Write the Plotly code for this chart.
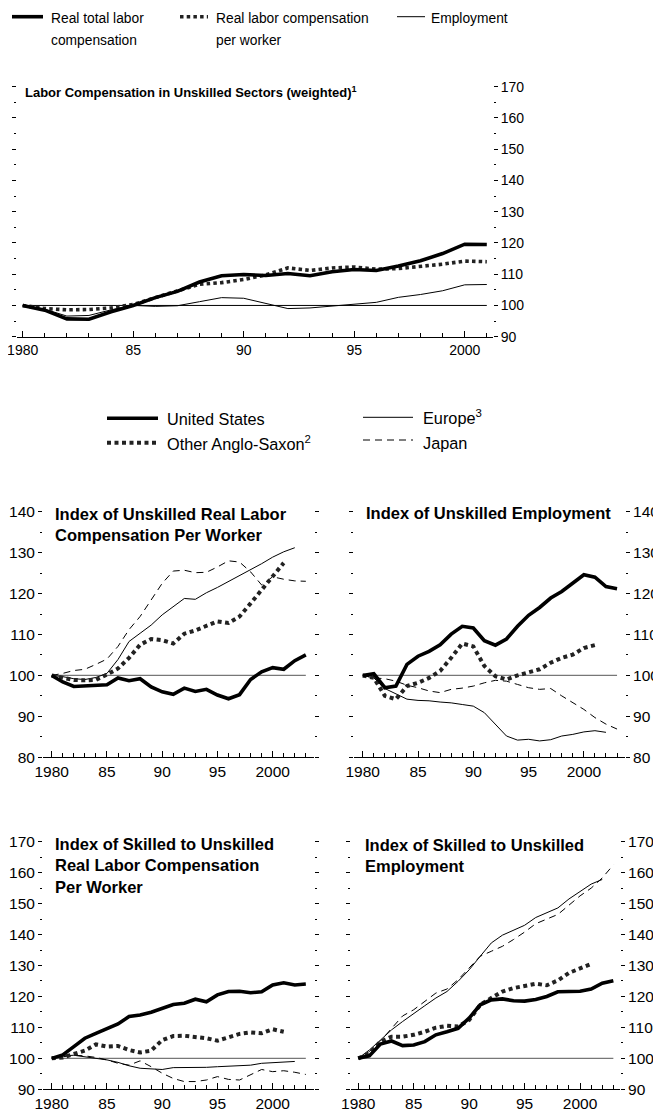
import plotly.graph_objects as go

# ---------------- data ----------------
years_top = list(range(1980, 2002))
top_total = [100, 98.5, 95.7, 95.6, 98.0, 100.0, 102.5, 104.5, 107.5, 109.5, 109.9, 109.6,
             110.2, 109.5, 110.8, 111.5, 111.2, 112.6, 114.3, 116.6, 119.6, 119.5]
top_per_worker = [100, 99.0, 98.6, 98.7, 99.2, 100.3, 102.5, 104.7, 106.8, 107.3, 108.3, 109.8,
                  112.0, 111.2, 112.0, 112.3, 111.6, 111.8, 112.5, 113.2, 114.2, 114.0]
top_employment = [100, 98.8, 96.6, 96.8, 98.6, 100.0, 99.7, 99.9, 101.2, 102.5, 102.3, 100.7,
                  99.0, 99.2, 99.8, 100.2, 101.0, 102.6, 103.5, 104.7, 106.6, 106.7]

years = list(range(1980, 2004))

# Index of unskilled real labor compensation per worker
ulc_us = [100, 98.4, 97.3, 97.4, 97.6, 97.7, 99.4, 98.7, 99.2, 97.2, 96.0, 95.4,
          96.9, 96.1, 96.6, 95.2, 94.3, 95.3, 99.0, 100.9, 101.9, 101.5, 103.6, 105.0]
ulc_anglo = [100, 99.4, 98.9, 98.8, 98.9, 100.2, 101.7, 104.3, 107.5, 108.9, 108.6, 107.8,
             110.2, 111.0, 112.0, 113.2, 112.8, 114.4, 117.6, 120.9, 124.1, 127.5]
ulc_europe = [100, 99.7, 99.2, 99.0, 99.5, 100.5, 103.9, 108.3, 110.3, 112.3, 114.8, 116.8,
              118.8, 118.6, 120.2, 121.5, 122.9, 124.5, 125.9, 127.3, 128.9, 130.2, 131.2]
ulc_japan = [100, 100.5, 101.2, 101.5, 102.7, 104.0, 107.1, 111.2, 114.4, 118.4, 122.5, 125.5,
             125.7, 125.1, 125.2, 126.5, 128.0, 127.7, 125.3, 122.1, 124.1, 123.5, 123.1, 123.0]

# Index of unskilled employment
ue_us = [100, 100.4, 97.0, 97.4, 102.7, 104.7, 105.9, 107.5, 110.1, 112.0, 111.6, 108.5,
         107.4, 108.9, 112.0, 114.7, 116.6, 118.9, 120.5, 122.5, 124.6, 124.0, 121.7, 121.2]
ue_anglo = [100, 99.4, 95.0, 94.2, 97.4, 98.2, 99.4, 101.1, 104.3, 107.8, 107.1, 102.3,
            99.8, 99.0, 100.0, 100.8, 101.5, 103.1, 104.3, 105.1, 106.7, 107.4]
ue_europe = [100, 99.4, 96.8, 95.4, 94.2, 93.9, 93.8, 93.5, 93.3, 92.9, 92.5, 90.9,
             88.1, 85.2, 84.2, 84.4, 84.0, 84.3, 85.2, 85.6, 86.2, 86.5, 86.1]
ue_japan = [100, 99.4, 99.2, 98.6, 97.6, 97.0, 96.2, 95.8, 96.6, 96.9, 97.4, 98.2,
            98.8, 98.6, 97.8, 97.0, 96.6, 96.8, 95.0, 93.3, 91.7, 89.7, 88.1, 86.9]

# Index of skilled to unskilled real labor compensation per worker
sulc_us = [100, 101.1, 103.8, 106.5, 108.1, 109.7, 111.1, 113.5, 114.0, 114.9, 116.1, 117.4,
           117.8, 119.1, 118.3, 120.5, 121.6, 121.7, 121.2, 121.5, 123.7, 124.4, 123.7, 124.0]
sulc_anglo = [100, 100.3, 101.4, 102.5, 104.5, 103.8, 104.0, 102.7, 101.9, 102.5, 105.9, 107.2,
              107.3, 107.0, 106.5, 105.7, 106.8, 107.9, 108.4, 108.1, 109.4, 108.6]
sulc_europe = [100, 100.8, 101.0, 100.5, 100.0, 99.5, 98.7, 97.6, 96.8, 96.6, 96.4, 97.0,
               97.0, 97.2, 97.1, 97.3, 97.5, 97.5, 97.8, 98.4, 98.6, 98.8, 99.0]
sulc_japan = [100, 100.5, 101.0, 100.8, 100.3, 99.5, 98.4, 97.8, 99.2, 97.3, 95.2, 93.5,
              92.5, 92.5, 93.0, 94.1, 93.2, 93.0, 94.6, 96.4, 95.7, 96.0, 95.5, 94.8]

# Index of skilled to unskilled employment
sue_us = [100, 100.8, 104.6, 105.6, 104.1, 104.3, 105.4, 107.6, 108.6, 109.7, 113.0, 117.3,
          118.9, 119.2, 118.6, 118.5, 119.0, 120.0, 121.5, 121.6, 121.7, 122.4, 124.3, 125.1]
sue_anglo = [100, 101.6, 105.4, 107.0, 107.0, 107.6, 108.6, 109.9, 110.5, 110.3, 112.4, 117.3,
             119.5, 121.6, 122.7, 123.5, 124.1, 123.6, 125.2, 127.6, 129.2, 130.5]
sue_europe = [100, 102.7, 105.9, 109.2, 111.9, 114.6, 117.0, 119.5, 121.6, 124.9, 128.6, 133.0,
              137.3, 139.8, 141.5, 143.0, 145.5, 147.0, 148.6, 151.5, 154.0, 156.3, 157.8]
sue_japan = [100, 102.2, 105.6, 109.7, 113.7, 115.7, 118.4, 121.1, 122.4, 125.4, 129.2, 133.0,
             134.6, 136.2, 138.4, 140.8, 143.5, 145.0, 146.5, 149.5, 152.5, 155.0, 158.3, 162.5]

x_tickvals = [1980, 1985, 1990, 1995, 2000]
x_ticktext = ["1980", "85", "90", "95", "2000"]
baseline = 100

# ---------------- styling ----------------
FONT = "Liberation Sans, Arial, Helvetica, sans-serif"
# the page body keeps an 8px margin, so the figure is offset by (8, 8)
OX, OY = 8, 8
W, H = 653, 1109

def px(x):
    return (x - OX) / W

def py(y):
    return 1 - (y - OY) / H

STY = {
    "us": dict(color="black", width=3.6),
    "anglo": dict(color="#222", width=4, dash="4px,3.5px"),
    "europe": dict(color="black", width=1),
    "japan": dict(color="black", width=1, dash="7px,5px"),
}

fig = go.Figure()

def add(x, y, key, xa, ya, name):
    n = len(y)
    fig.add_trace(go.Scatter(x=x[:n], y=y, mode="lines", line=STY[key], name=name,
                             xaxis=xa, yaxis=ya, showlegend=False, hoverinfo="skip"))

# top panel
fig.add_trace(go.Scatter(x=years_top, y=[baseline] * len(years_top), mode="lines",
                         line=dict(color="black", width=1), xaxis="x", yaxis="y",
                         showlegend=False, hoverinfo="skip"))
fig.add_trace(go.Scatter(x=years_top, y=top_employment, mode="lines", line=dict(color="black", width=1),
                         xaxis="x", yaxis="y", showlegend=False, hoverinfo="skip"))
fig.add_trace(go.Scatter(x=years_top, y=top_per_worker, mode="lines",
                         line=dict(color="#222", width=3.6, dash="3.5px,3.2px"),
                         xaxis="x", yaxis="y", showlegend=False, hoverinfo="skip"))
fig.add_trace(go.Scatter(x=years_top, y=top_total, mode="lines", line=dict(color="black", width=3.6),
                         xaxis="x", yaxis="y", showlegend=False, hoverinfo="skip"))

panels = [
    ("x2", "y2", ulc_us, ulc_anglo, ulc_europe, ulc_japan),
    ("x3", "y3", ue_us, ue_anglo, ue_europe, ue_japan),
    ("x4", "y4", sulc_us, sulc_anglo, sulc_europe, sulc_japan),
    ("x5", "y5", sue_us, sue_anglo, sue_europe, sue_japan),
]
for xa, ya, us, an, eu, jp in panels:
    fig.add_trace(go.Scatter(x=years, y=[baseline] * len(years), mode="lines",
                             line=dict(color="#777", width=1.3), xaxis=xa, yaxis=ya,
                             showlegend=False, hoverinfo="skip"))
    add(years, eu, "europe", xa, ya, "Europe")
    add(years, jp, "japan", xa, ya, "Japan")
    add(years, an, "anglo", xa, ya, "Other Anglo-Saxon")
    add(years, us, "us", xa, ya, "United States")


def xaxis(domain, rng, anchor, fs):
    return dict(domain=domain, range=rng, anchor=anchor, showgrid=False, zeroline=False,
                automargin=False, ticklabeloverflow="allow",
                showline=True, linecolor="black", linewidth=1.3,
                tickmode="array", tickvals=x_tickvals, ticktext=x_ticktext,
                ticks="inside", ticklen=6, tickwidth=1, tickcolor="black",
                tickfont=dict(family=FONT, size=fs, color="black"),
                minor=dict(tickmode="linear", tick0=1980, dtick=1, ticks="inside", ticklen=4,
                           tickwidth=1, tickcolor="black", showgrid=False))


def yaxis(domain, rng, anchor, side, fs):
    return dict(domain=domain, range=rng, anchor=anchor, side=side, showgrid=False, zeroline=False,
                automargin=False, ticklabeloverflow="allow",
                showline=False, mirror="ticks", tickmode="linear", tick0=rng[0], dtick=10,
                ticks="outside", ticklen=4, tickwidth=1, tickcolor="black",
                tickfont=dict(family=FONT, size=fs, color="black"),
                minor=dict(tickmode="linear", tick0=rng[0], dtick=5, ticks="outside", ticklen=2,
                           tickwidth=1, tickcolor="black", showgrid=False))

mid_y = [py(757.3), py(511.7)]
bot_y = [py(1089.3), py(841.7)]
FS_TOP = 14
FS = 15.5

layout = dict(
    width=W, height=H, margin=dict(l=0, r=0, t=0, b=0, autoexpand=False),
    paper_bgcolor="white", plot_bgcolor="white",
    font=dict(family=FONT, color="black"),
    xaxis=xaxis([px(16.7), px(493)], [1979.73, 2001.28], "y", FS_TOP),
    yaxis=yaxis([py(336.7), py(86.7)], [90, 170], "x", "right", FS_TOP),
    xaxis2=xaxis([px(43), px(314)], [1979.21, 2003.74], "y2", FS),
    yaxis2=yaxis(mid_y, [80, 140], "x2", "left", FS),
    xaxis3=xaxis([px(354), px(625)], [1979.21, 2003.72], "y3", FS),
    yaxis3=yaxis(mid_y, [80, 140], "x3", "right", FS),
    xaxis4=xaxis([px(43), px(314)], [1979.21, 2003.74], "y4", FS),
    yaxis4=yaxis(bot_y, [90, 170], "x4", "left", FS),
    xaxis5=xaxis([px(350.7), px(620)], [1979.32, 2003.6], "y5", FS),
    yaxis5=yaxis(bot_y, [90, 170], "x5", "right", FS),
)
fig.update_layout(**layout)

# ---------------- legends (drawn) ----------------
shapes = []
annotations = []

def leg_line(x0, x1, y, line):
    shapes.append(dict(type="line", xref="paper", yref="paper", x0=px(x0), x1=px(x1),
                       y0=py(y), y1=py(y), line=line))

def text(x, y, s, size, bold=False, anchor="left", yanchor="middle"):
    if bold:
        s = "<b>" + s + "</b>"
    annotations.append(dict(xref="paper", yref="paper", x=px(x), y=py(y), text=s,
                            showarrow=False, xanchor=anchor, yanchor=yanchor, align="left",
                            xshift=-2, font=dict(family=FONT, size=size, color="black")))

# top legend
LT = 13.8
leg_line(12, 43, 16.7, dict(color="black", width=3.6))
text(51, 18, "Real total labor", LT)
text(51, 41, "compensation", LT)
leg_line(180, 208, 16.7, dict(color="#222", width=3.6, dash="3.5px,3.2px"))
text(216, 18, "Real labor compensation", LT)
text(216, 41, "per worker", LT)
leg_line(397, 425, 16.7, dict(color="black", width=1))
text(431, 18, "Employment", LT)

# middle legend
LM = 16.3
leg_line(107, 158, 418.3, STY["us"])
text(167, 419, "United States", LM)
leg_line(107, 158, 442.7, STY["anglo"])
text(167, 443, "Other Anglo-Saxon<sup>2</sup>", LM)
leg_line(363, 413, 417.3, STY["europe"])
text(423, 417, "Europe<sup>3</sup>", LM)
leg_line(363, 413, 440, STY["japan"])
text(423, 443, "Japan", LM)

# panel titles
TT = 16.5
text(25, 92, "Labor Compensation in Unskilled Sectors (weighted)<sup>1</sup>", 13, bold=True)
text(55, 524, "Index of Unskilled Real Labor<br>Compensation Per Worker", TT, bold=True)
text(366, 513, "Index of Unskilled Employment", TT, bold=True)
text(55, 866, "Index of Skilled to Unskilled<br>Real Labor Compensation<br>Per Worker", TT, bold=True)
text(365, 855, "Index of Skilled to Unskilled<br>Employment", TT, bold=True)

fig.update_layout(shapes=shapes, annotations=annotations)

fig.write_html("out.html")
